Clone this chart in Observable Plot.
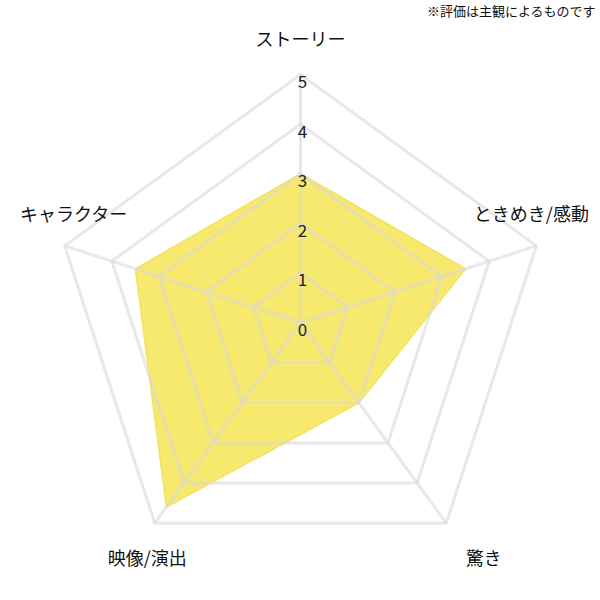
<!DOCTYPE html>
<html>
<head>
<meta charset="utf-8">
<script src="https://cdn.jsdelivr.net/npm/d3@7"></script>
<script src="https://cdn.jsdelivr.net/npm/@observablehq/plot@0.6"></script>
<style>
  html, body { margin: 0; padding: 0; background: #fff; }
</style>
</head>
<body>
<div id="chart"></div>
<script>
const categories = ["ストーリー", "ときめき/感動", "驚き", "映像/演出", "キャラクター"];
const scores = [3, 3.5, 2, 4.6, 3.5];
const tickValues = [0, 1, 2, 3, 4, 5];
const note = "※評価は主観によるものです";

// layout / style
const W = 600, H = 600, cx = 300, cy = 322, k = 49.6;
const maxV = 5, labelR = 5.7;
const labelNudge = [[0, 0], [-38, -20], [17, 8], [13, 8], [42, -20]];

const angle = i => (i * 2 * Math.PI) / categories.length;
const px = (v, i) => v * Math.sin(angle(i));
const py = (v, i) => v * Math.cos(angle(i));

const rings = [];
for (const t of tickValues.filter(t => t > 0)) {
  categories.forEach((c, i) => rings.push({ ring: t, x: px(t, i), y: py(t, i) }));
}
const spokes = categories.map((c, i) => ({ x1: 0, y1: 0, x2: px(maxV, i), y2: py(maxV, i) }));
const poly = categories.map((c, i) => ({ x: px(scores[i], i), y: py(scores[i], i) }));

const fontFamily = "'Noto Sans CJK JP', 'Noto Sans', sans-serif";

const labelMarks = categories.map((c, i) =>
  Plot.text([c], {
    x: () => px(labelR, i), y: () => py(labelR, i), text: d => d,
    dx: labelNudge[i][0], dy: labelNudge[i][1],
    textAnchor: "middle", lineAnchor: "middle",
    fontSize: 18, fill: "#111"
  })
);

const chart = Plot.plot({
  width: W, height: H, margin: 0,
  style: { fontFamily, background: "#fff" },
  x: { domain: [-cx / k, (W - cx) / k], range: [0, W], axis: null },
  y: { domain: [-(H - cy) / k, cy / k], range: [H, 0], axis: null },
  marks: [
    Plot.line(poly, { x: "x", y: "y", fill: "#f7e96e", stroke: "#f4e45c", strokeWidth: 1.5, curve: "linear-closed" }),
    Plot.line(rings, { x: "x", y: "y", z: "ring", stroke: "#d8d8d8", strokeOpacity: 0.6, strokeWidth: 3, curve: "linear-closed" }),
    Plot.link(spokes, { x1: "x1", y1: "y1", x2: "x2", y2: "y2", stroke: "#d8d8d8", strokeOpacity: 0.6, strokeWidth: 3 }),
    Plot.text(tickValues, {
      x: 0, y: d => d, text: d => String(d), dx: 2, dy: 8,
      textAnchor: "middle", lineAnchor: "middle", fontSize: 17, fill: "#222"
    }),
    ...labelMarks,
    Plot.text([note], {
      frameAnchor: "top-right", text: d => d, dx: -5, dy: 11,
      textAnchor: "end", lineAnchor: "middle", fontSize: 13, fill: "#111"
    })
  ]
});
document.getElementById("chart").appendChild(chart);
</script>
</body>
</html>
